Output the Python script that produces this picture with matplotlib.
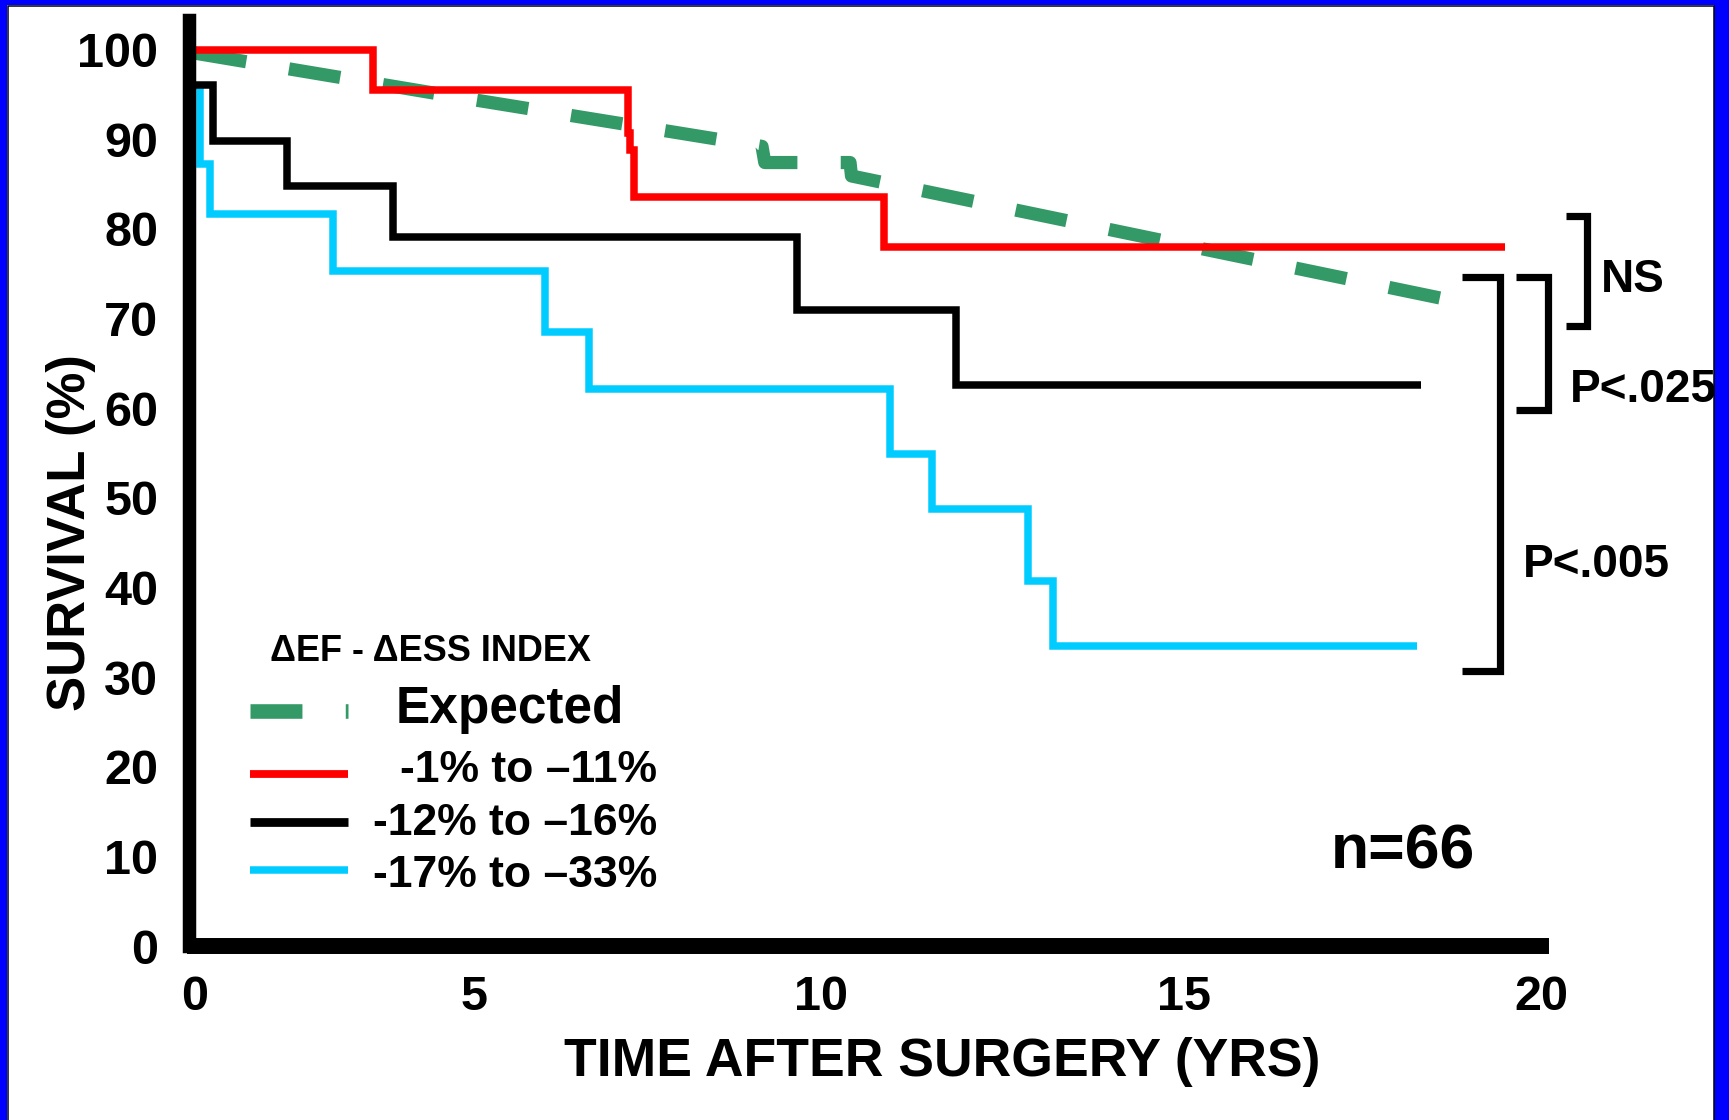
import numpy as np
import matplotlib
matplotlib.use('Agg')
import matplotlib.pyplot as plt
from matplotlib.patches import Rectangle
from matplotlib.transforms import blended_transform_factory

plt.rcParams['font.family'] = ['Liberation Sans', 'DejaVu Sans']
plt.rcParams['font.weight'] = 'bold'
plt.rcParams['lines.scale_dashes'] = False

# ── Data: years after surgery / % survival ──
exp_t = [0, 5, 9.15, 9.19, 10.4, 10.42, 15, 18.7]
exp_s = [99.6, 94.4, 89.2, 87.4, 87.4, 85.9, 78.2, 72.1]

red_t = [0, 3.19, 7.22, 7.25, 7.31, 10.87, 19.49]
red_s = [100, 95.5, 90.7, 88.8, 83.6, 78.0, 78.0]

blk_t = [0, 0.33, 1.65, 3.55, 9.65, 11.86, 18.32]
blk_s = [96.1, 89.8, 84.8, 79.1, 71.0, 62.6, 62.6]

cyan_t = [0, 0.09, 0.27, 2.47, 6.03, 6.65, 10.95, 11.53, 12.85, 13.20, 18.26]
cyan_s = [95.9, 87.2, 81.7, 75.3, 68.5, 62.1, 54.9, 48.7, 40.7, 33.5, 33.5]

series_labels = ['Expected', '-1% to \u201311%', '-12% to \u201316%', '-17% to \u201333%']
legend_title = '\u0394EF - \u0394ESS INDEX'

x_ticks = [0, 5, 10, 15, 20]
y_ticks = list(range(0, 101, 10))

# p-value brackets (survival % at ends)
bracket_labels = ['NS', 'P<.025', 'P<.005']
bracket_top = [81.4, 74.6, 74.6]
bracket_bot = [69.2, 59.8, 30.7]

# ── Styling ──
GREEN = '#339966'
RED = '#FF0000'
CYAN = '#00CCFF'
W, H = 1729, 1120
LW = 5.4
DASH = (0, (37.4, 31.2))

# the printed time axis is not evenly spaced: tick positions (px) of 0,5,10,15,20
knot_yr = np.array([0, 5, 10, 15, 20], dtype=float)
knot_px = np.array([0, 279, 626, 989, 1346], dtype=float)


def _pl(x, xs, ys):
    x = np.asarray(x, dtype=float)
    y = np.interp(x, xs, ys)
    lo = ys[0] + (x - xs[0]) * (ys[1] - ys[0]) / (xs[1] - xs[0])
    hi = ys[-1] + (x - xs[-1]) * (ys[-1] - ys[-2]) / (xs[-1] - xs[-2])
    return np.where(x < xs[0], lo, np.where(x > xs[-1], hi, y))


def fwd(x):
    return _pl(x, knot_yr, knot_px)


def inv(u):
    return _pl(u, knot_px, knot_yr)


fig = plt.figure(figsize=(W / 100, H / 100), dpi=100)
ax = fig.add_axes([195 / W, 174 / H, 1346 / W, 926 / H])
ax.set_xscale('function', functions=(fwd, inv))
ax.set_xlim(0, 20)
ax.set_ylim(0, 103.3)

ax.plot(exp_t, exp_s, color=GREEN, lw=9.5, ls=DASH, zorder=1)
ax.step(red_t, red_s, where='post', color=RED, lw=LW,
        solid_joinstyle='miter', solid_capstyle='butt', zorder=2)
ax.step(cyan_t, cyan_s, where='post', color=CYAN, lw=LW,
        solid_joinstyle='miter', solid_capstyle='butt', zorder=2)
ax.step(blk_t, blk_s, where='post', color='black', lw=LW,
        solid_joinstyle='miter', solid_capstyle='butt', zorder=2)

# spines / ticks
for s in ['top', 'right']:
    ax.spines[s].set_visible(False)
ax.spines['left'].set_linewidth(9.7)
ax.spines['bottom'].set_linewidth(11.5)
ax.spines['left'].set_position(('outward', 4.3))
for s in ['left', 'bottom']:
    ax.spines[s].set_capstyle('projecting')
    ax.spines[s].set_zorder(5)

ax.set_xticks(x_ticks)
ax.set_xticklabels([str(v) for v in x_ticks])
ax.set_yticks(y_ticks)
ax.set_yticklabels([str(v) for v in y_ticks])
ax.tick_params(axis='x', length=0, labelsize=35, pad=21)
ax.tick_params(axis='y', length=0, labelsize=35, pad=22.3)

ax.set_xlabel('TIME AFTER SURGERY (YRS)', fontsize=38.5, fontweight='bold')
ax.xaxis.label.set_va('baseline')
ax.xaxis.set_label_coords(0.5554, -0.1404)
ax.set_ylabel('SURVIVAL (%)', fontsize=38, fontweight='bold')
ax.yaxis.label.set(va='baseline', ha='center', rotation_mode='anchor')
ax.yaxis.set_label_coords(-0.0817, 0.447)

# ── Brackets ──
bt = blended_transform_factory(ax.transAxes, ax.transData)
bracket_xv = [1.0342, 1.0052, 0.9695]
bracket_xs = [1.0186, 0.9814, 0.9413]
bracket_txt = [(1.0446, 0.7063), (1.0215, 0.5873), (0.9866, 0.3987)]
for lab, top, bot, xv, xs, (tx, ty) in zip(bracket_labels, bracket_top, bracket_bot,
                                          bracket_xv, bracket_xs, bracket_txt):
    ax.plot([xs, xv, xv, xs], [top, top, bot, bot], transform=bt, clip_on=False,
            color='black', lw=5.2, solid_joinstyle='miter', solid_capstyle='butt')
    ax.text(tx, ty, lab, transform=ax.transAxes, fontsize=33, fontweight='bold',
            ha='left', va='baseline', clip_on=False)

ax.text(0.844, 0.0836, 'n=66', transform=ax.transAxes, fontsize=45,
        fontweight='bold', ha='left', va='baseline')

# ── Hand-made legend ──
ax.text(0.0557, 0.3076, legend_title, transform=ax.transAxes, fontsize=26,
        fontweight='bold', ha='left', va='baseline')
leg_colors = [GREEN, RED, 'black', CYAN]
leg_lw = [10.5, 5.6, 6.3, 5.4]
leg_y = [0.2535, 0.1854, 0.1334, 0.0825]
leg_txt_y = [0.2412, 0.1768, 0.12, 0.0636]
for i, (lab, c) in enumerate(zip(series_labels, leg_colors)):
    ls = DASH if i == 0 else '-'
    ax.plot([0.0409, 0.1137], [leg_y[i], leg_y[i]], transform=ax.transAxes,
            clip_on=False, color=c, lw=leg_lw[i], ls=ls, solid_capstyle='butt')
    if i == 0:
        ax.text(0.1493, leg_txt_y[i], lab, transform=ax.transAxes, fontsize=37,
                fontweight='bold', ha='left', va='baseline')
    else:
        ax.text(0.3432, leg_txt_y[i], lab, transform=ax.transAxes, fontsize=32,
                fontweight='bold', ha='right', va='baseline')

# ── Blue slide frame ──
for (x0, y0, w, h) in [(0, (H - 5) / H, 1, 5 / H), (0, 0, 7 / W, 1), (1714 / W, 0, 15 / W, 1)]:
    fig.add_artist(Rectangle((x0, y0), w, h, transform=fig.transFigure,
                             facecolor='#0000FF', edgecolor='none', zorder=-1))
fig.add_artist(Rectangle((7.5 / W, -0.1), (1714 - 7.5) / W, (H - 5.5) / H + 0.1,
                         transform=fig.transFigure, fill=False,
                         edgecolor='black', lw=1.1, zorder=-1))

fig.savefig('out.png', dpi=100)
